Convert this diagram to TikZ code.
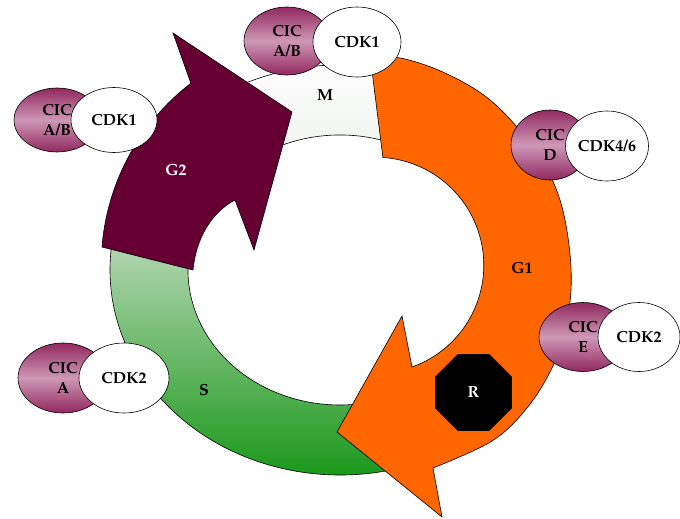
\documentclass[tikz,border=0pt]{standalone}
\usepackage[T1]{fontenc}
\usepackage{mathpazo}
\usetikzlibrary{shapes.geometric}

\definecolor{cicdark}{RGB}{145,40,95}
\definecolor{ciclight}{RGB}{206,152,182}
\definecolor{mband}{RGB}{232,236,232}
\definecolor{slight}{RGB}{208,226,206}
\definecolor{sdark}{RGB}{8,145,8}
\definecolor{gone}{RGB}{255,102,0}
\definecolor{gtwo}{RGB}{102,0,51}

\tikzset{
  every node/.style={font=\fontsize{16}{19.5}\selectfont\bfseries},
  cic/.style={ellipse, draw, minimum width=86pt, minimum height=68pt,
    inner sep=0pt, align=center,
    top color=cicdark, bottom color=cicdark, middle color=ciclight},
  cdk/.style={ellipse, draw, fill=white, minimum width=86pt,
    minimum height=70pt, inner sep=0pt},
  phase/.style={inner sep=1pt},
}

\begin{document}
\begin{tikzpicture}[x=1pt, y=-1pt, line width=0.6pt]
\useasboundingbox (0,0) rectangle (680,519);

% ring: M and S
\begin{scope}[shift={(340,270)}]
\draw[top color=white, bottom color=mband] (200:230 and 205)
  arc[start angle=200, end angle=290, x radius=230, y radius=205]
  -- (290:152 and 135)
  arc[start angle=290, end angle=200, x radius=152, y radius=135] -- cycle;
\draw[top color=slight, bottom color=sdark] (55:230 and 205)
  arc[start angle=55, end angle=200, x radius=230, y radius=205]
  -- (200:152 and 135)
  arc[start angle=200, end angle=55, x radius=152, y radius=135] -- cycle;
\end{scope}

% G1 arrow
\draw[fill=gone] plot[smooth, tension=0.6] coordinates {(370,55) (405,59)
  (445,73) (485,96) (517,127) (543,162) (560,200) (569,245) (571,290)
  (564,335) (551,370) (527,408) (492,441) (433,468)}
  -- (442,517) -- (337,432) -- (402,316) -- (412,367)
  arc[start angle=70.4, end angle=-86.2, radius=108] -- cycle;

% G2 arrow
\draw[fill=gtwo] (102,247) arc[start angle=184.5, end angle=232.5, radius=229]
  -- (173,33) -- (292,112) -- (254,250) -- (235,200)
  .. controls (212,212) and (196,238) .. (193,270) -- cycle;

% R
\node[regular polygon, regular polygon sides=8, minimum size=83pt,
  inner sep=0pt, fill=black, text=white] (r) at (473.5,392.5) {R};

% phase labels
\node[phase] (m) at (325,95) {M};
\node[phase, text=white] (g2) at (176,170) {G2};
\node[phase] (g1) at (522,268) {G1};
\node[phase] (s) at (204,390) {S};

% complexes
\node[cic] (cicM) at (287,41) {CIC\\A/B};
\node[cdk, minimum width=88pt] (cdkM) at (357,42) {CDK1};
\node[cic, minimum height=64pt] (cicG2) at (57,120) {CIC\\A/B};
\node[cdk, minimum height=65pt] (cdkG2) at (114,120) {CDK1};
\node[cic, minimum width=78pt, minimum height=70pt] (cicD) at (550,145) {CIC\\D};
\node[cdk, minimum width=83pt] (cdkD) at (607,146) {CDK4/6};
\node[cic, minimum width=88pt, minimum height=69pt] (cicE) at (583,337) {CIC\\E};
\node[cdk, minimum width=82pt, minimum height=69pt] (cdkE) at (639,337) {CDK2};
\node[cic, minimum width=90pt, minimum height=70pt] (cicA) at (63,378) {CIC\\A};
\node[cdk, minimum width=90pt] (cdkA) at (124,378) {CDK2};
\end{tikzpicture}
\end{document}
